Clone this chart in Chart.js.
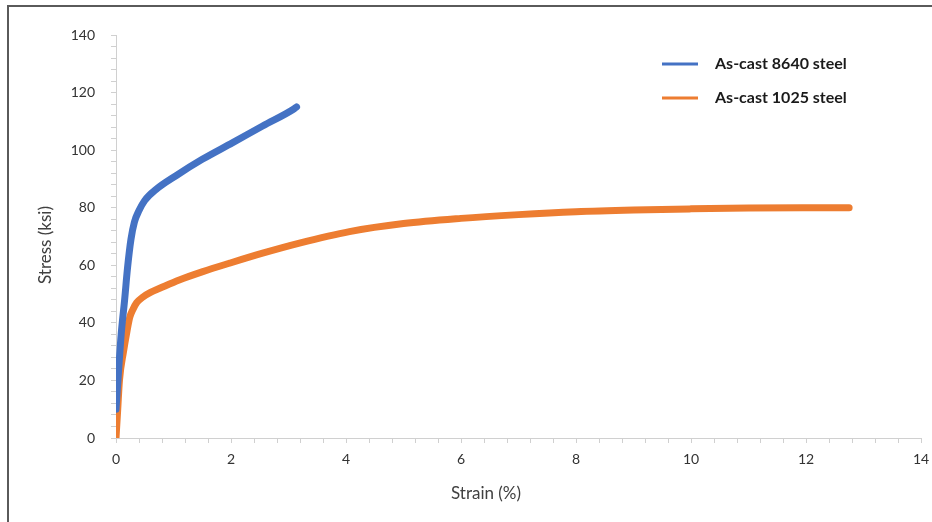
<!DOCTYPE html>
<html>
<head>
<meta charset="utf-8">
<script src="https://cdn.jsdelivr.net/npm/chart.js@4.4.0/dist/chart.umd.min.js"></script>
<style>
    html, body { margin: 0; padding: 0; background: #fff; }
    #wrap { position: relative; width: 932px; height: 522px; }
    #frame {
        position: absolute; left: 7px; top: 5px; right: 0; bottom: 0;
        border-top: 2px solid #5a5a5a; border-left: 2px solid #5a5a5a;
        pointer-events: none;
    }
    canvas { position: absolute; left: 0; top: 0; }
</style>
</head>
<body>
<div id="wrap">
    <canvas id="stressChart" width="932" height="522"></canvas>
    <div id="frame"></div>
</div>
<script>
// Данные кривых растяжения (деформация %, напряжение ksi)
const strain8640 = [0, 0.04, 0.09, 0.15, 0.2, 0.26, 0.32, 0.4, 0.5, 0.7, 1.05, 1.5, 2.03, 2.55, 3.1, 3.14];
const stress8640 = [10, 22, 36, 48, 59, 69, 75, 79, 82.5, 86.4, 91.2, 96.8, 102.6, 108.4, 114.4, 115];

const strain1025 = [0, 0.03, 0.06, 0.13, 0.19, 0.24, 0.29, 0.36, 0.47, 0.6, 0.76, 1.1, 1.51, 1.97, 2.55, 3.19, 4.06, 5, 6, 7, 8, 9, 10, 11, 12, 12.75];
const stress1025 = [0, 10, 20, 30, 37, 42, 44.5, 47, 49, 50.6, 52, 54.9, 57.8, 60.7, 64.2, 67.7, 71.7, 74.5, 76.3, 77.6, 78.6, 79.2, 79.6, 79.9, 80, 80];

const seriesNames = ['As-cast 8640 steel', 'As-cast 1025 steel'];
const seriesColors = ['#4472C4', '#ED7D31'];

const xMax = 14, xMinor = 0.4, xMajor = 2;
const yMax = 140, yMinor = 4, yMajor = 20;

const FONT = "Lato, 'Open Sans', sans-serif";

function toPoints(xs, ys) {
    return xs.map((x, i) => ({ x: x, y: ys[i] }));
}

function isMajor(value, step) {
    const r = value / step;
    return Math.abs(r - Math.round(r)) < 1e-6;
}

function minorTicks(max, step) {
    const ticks = [];
    const n = Math.round(max / step);
    for (let i = 0; i <= n; i++) ticks.push({ value: +(i * step).toFixed(6) });
    return ticks;
}

// Легенда и подписи осей рисуются вручную
const overlayPlugin = {
    id: 'overlay',
    afterDraw(chart) {
        const ctx = chart.ctx;
        ctx.save();
        // легенда
        const lx = 662, ly = [64, 98];
        ctx.font = "bold 16px " + FONT;
        ctx.textBaseline = 'middle';
        ctx.textAlign = 'left';
        seriesNames.forEach((name, i) => {
            ctx.strokeStyle = seriesColors[i];
            ctx.lineWidth = 3;
            ctx.beginPath();
            ctx.moveTo(lx, ly[i]);
            ctx.lineTo(lx + 36, ly[i]);
            ctx.stroke();
            ctx.fillStyle = '#1a1a1a';
            ctx.fillText(name, lx + 53, ly[i]);
        });
        // подписи осей
        ctx.fillStyle = '#404040';
        ctx.font = "17px " + FONT;
        ctx.textAlign = 'center';
        ctx.fillText('Strain (%)', 486, 494);
        ctx.translate(46, 245);
        ctx.rotate(-Math.PI / 2);
        ctx.fillText('Stress (ksi)', 0, 0);
        ctx.restore();
    }
};

function initStressChart() {
    const ctx = document.getElementById('stressChart');

    const lineStyle = {
        borderWidth: 7,
        showLine: true,
        pointRadius: 0,
        cubicInterpolationMode: 'monotone',
        borderCapStyle: 'round'
    };

    new Chart(ctx, {
        type: 'scatter',
        data: {
            datasets: [
                Object.assign({
                    label: seriesNames[0],
                    data: toPoints(strain8640, stress8640),
                    borderColor: seriesColors[0],
                    backgroundColor: seriesColors[0]
                }, lineStyle),
                Object.assign({
                    label: seriesNames[1],
                    data: toPoints(strain1025, stress1025),
                    borderColor: seriesColors[1],
                    backgroundColor: seriesColors[1]
                }, lineStyle)
            ]
        },
        options: {
            responsive: false,
            animation: false,
            layout: { padding: { left: 0, top: 35, right: 11, bottom: 0 } },
            plugins: {
                legend: { display: false },
                tooltip: { enabled: false }
            },
            scales: {
                x: {
                    type: 'linear',
                    min: 0, max: xMax,
                    afterFit: function(scale) {
                        scale.height = 84;
                        scale.paddingLeft = 0;
                        scale.paddingRight = 0;
                    },
                    afterBuildTicks: function(scale) { scale.ticks = minorTicks(xMax, xMinor); },
                    border: { color: '#d0d0d0', width: 1 },
                    grid: { drawOnChartArea: false, drawTicks: true, tickLength: 5, color: '#d0d0d0' },
                    ticks: {
                        autoSkip: false,
                        maxRotation: 0,
                        padding: 8,
                        color: '#333333',
                        font: { size: 14, family: FONT },
                        callback: function(value) { return isMajor(value, xMajor) ? Math.round(value) : ''; }
                    }
                },
                y: {
                    type: 'linear',
                    min: 0, max: yMax,
                    afterFit: function(scale) {
                        scale.width = 116;
                        scale.paddingTop = 0;
                        scale.paddingBottom = 0;
                    },
                    afterBuildTicks: function(scale) { scale.ticks = minorTicks(yMax, yMinor); },
                    border: { color: '#d0d0d0', width: 1 },
                    grid: { drawOnChartArea: false, drawTicks: true, tickLength: 5, color: '#d0d0d0' },
                    ticks: {
                        autoSkip: false,
                        padding: 16,
                        color: '#333333',
                        font: { size: 14, family: FONT },
                        callback: function(value) { return isMajor(value, yMajor) ? Math.round(value) : ''; }
                    }
                }
            }
        },
        plugins: [overlayPlugin]
    });
}

document.addEventListener('DOMContentLoaded', initStressChart);
</script>
</body>
</html>
